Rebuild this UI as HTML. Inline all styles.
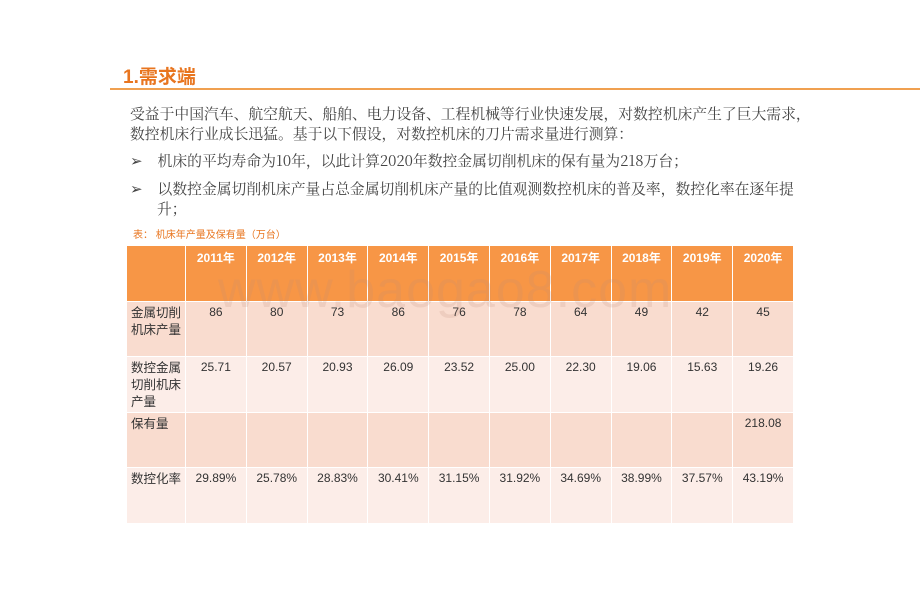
<!DOCTYPE html>
<html><head><meta charset="utf-8">
<style>
body{margin:0;width:920px;height:614px;background:#fff;position:relative;overflow:hidden;font-family:"Liberation Sans","Noto Sans CJK SC",sans-serif;}
.abs{position:absolute;}
#title{left:123px;top:62px;font-size:19px;font-weight:bold;color:#E8751F;}
#rule{left:110px;top:88px;width:810px;height:2px;background:#F0A050;}
.p{font-family:"Noto Serif CJK SC","Noto Sans CJK SC",serif;font-size:14.8px;color:#444;line-height:20px;white-space:nowrap;}
#cap{left:133px;top:226px;font-size:10px;color:#E8751F;}
table{position:absolute;left:126px;top:245px;border-collapse:collapse;table-layout:fixed;}
td{border:1px solid #fff;font-size:12px;color:#333;vertical-align:top;text-align:center;padding:3px 0 0 0;box-sizing:border-box;}
tr.h td{background:#F79646;color:#fff;font-weight:bold;height:56px;}
tr.r1 td{background:#F9DCCF;height:55px;}
tr.r2 td{background:#FCEDE8;height:56px;}
td.lab{text-align:left;padding-left:4px;font-size:12.5px;line-height:17px;}
#wm{left:218px;top:260px;font-size:52px;color:rgba(190,140,120,0.18);letter-spacing:1px;z-index:2;pointer-events:none;}
</style></head><body>
<div class="abs" id="title">1.需求端</div>
<div class="abs" id="rule"></div>
<div class="abs p" style="left:130px;top:104px">受益于中国汽车、航空航天、船舶、电力设备、工程机械等行业快速发展，对数控机床产生了巨大需求，<br>数控机床行业成长迅猛。基于以下假设，对数控机床的刀片需求量进行测算：</div>
<div class="abs p" style="left:130px;top:151px">➢&nbsp;&nbsp;&nbsp;&nbsp;机床的平均寿命为10年，以此计算2020年数控金属切削机床的保有量为218万台；</div>
<div class="abs p" style="left:130px;top:179px">➢&nbsp;&nbsp;&nbsp;&nbsp;以数控金属切削机床产量占总金属切削机床产量的比值观测数控机床的普及率，数控化率在逐年提<br><span style="padding-left:27px">升；</span></div>
<div class="abs" id="cap">表： 机床年产量及保有量（万台）</div>
<div class="abs" id="wm">www.baogao8.com</div>
<table id="tbl"></table>
<script>
const years=["2011年","2012年","2013年","2014年","2015年","2016年","2017年","2018年","2019年","2020年"];
const output=["86","80","73","86","76","78","64","49","42","45"];
const cncOutput=["25.71","20.57","20.93","26.09","23.52","25.00","22.30","19.06","15.63","19.26"];
const stock=["","","","","","","","","","218.08"];
const cncRate=["29.89%","25.78%","28.83%","30.41%","31.15%","31.92%","34.69%","38.99%","37.57%","43.19%"];
const labels=["金属切削<br>机床产量","数控金属<br>切削机床<br>产量","保有量","数控化率"];
const names=["output-row","cnc-output-row","stock-row","cnc-rate-row"];
const t=document.getElementById('tbl');
const cg=document.createElement('colgroup');
t.appendChild(cg);
const widths=[59].concat(years.map(()=>60.8));
widths.forEach(w=>{const c=document.createElement('col');c.style.width=w+'px';cg.appendChild(c);});
const hr=document.createElement('tr');hr.className='h';


hr.appendChild(document.createElement('td'));
years.forEach(y=>{const td=document.createElement('td');td.textContent=y;


hr.appendChild(td);});
t.appendChild(hr);
[output,cncOutput,stock,cncRate].forEach((arr,i)=>{
const tr=document.createElement('tr');tr.className=i%2==0?'r1':'r2';


const l=document.createElement('td');l.className='lab';l.innerHTML=labels[i];


tr.appendChild(l);
arr.forEach(v=>{const td=document.createElement('td');td.textContent=v;


tr.appendChild(td);});
t.appendChild(tr);});
</script>
</body></html>
